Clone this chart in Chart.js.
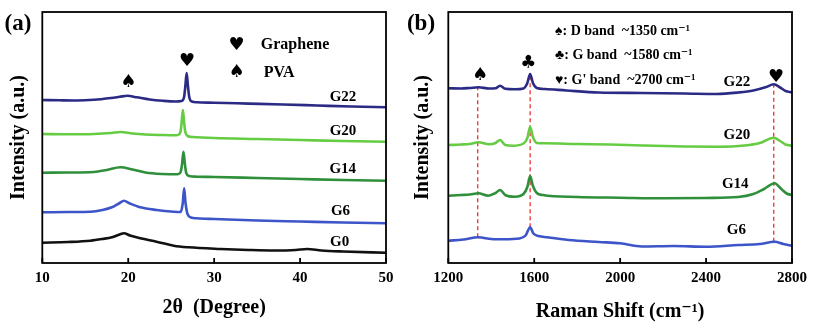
<!DOCTYPE html>
<html>
<head>
<meta charset="utf-8">
<script src="https://cdn.jsdelivr.net/npm/chart.js@4.4.1/dist/chart.umd.min.js"></script>
<style>
  html, body { margin: 0; padding: 0; background: #fff; }
  #wrap { position: relative; width: 815px; height: 328px; overflow: hidden; }
  #xrd { position: absolute; left: 0; top: 0; }
  #raman { position: absolute; left: 404px; top: 0; }
</style>
</head>
<body>
<div id="wrap">
  <canvas id="xrd" width="400" height="328"></canvas>
  <canvas id="raman" width="411" height="328"></canvas>
</div>
<script>
// ---- XRD: 2theta (deg) vs intensity (a.u., curves offset) ----
const xrdTicks = [10, 20, 30, 40, 50];

const g22Angle = [10, 12, 14, 16, 18, 19, 19.9, 21, 22.5, 24, 25.5, 26.2, 26.5, 26.65, 26.8, 26.95, 27.1, 27.4, 28, 30, 34, 38, 42, 46, 50];
const g22Xrd   = [163, 162.7, 162.5, 163.2, 165, 166.2, 167.3, 165.7, 163.5, 162.2, 161.5, 162, 166, 177, 190, 177, 166, 161.5, 160.7, 160.3, 159.4, 158.5, 157.5, 156.5, 155.7];

const g20Angle = [10, 13, 16, 18, 19.1, 20.5, 22, 24, 25.5, 25.9, 26.1, 26.22, 26.36, 26.5, 26.65, 26.9, 27.5, 30, 35, 40, 45, 50];
const g20Xrd   = [129, 128.7, 129, 130, 131, 129.5, 128.5, 128, 127.8, 128.5, 132, 141, 153, 141, 131, 127, 126, 125, 124, 123, 122, 121.3];

const g14Angle = [10, 13, 16, 17.5, 19.1, 20.5, 22, 24, 25.7, 26.1, 26.28, 26.43, 26.58, 26.75, 27.1, 28, 30, 35, 40, 45, 50];
const g14Xrd   = [90.3, 90.5, 91, 93, 95.7, 93.5, 90.5, 89, 88.7, 91, 100, 111.3, 100, 90, 87, 86.3, 86, 85, 84, 83, 82.3];

const g6Angle = [10, 13, 15.6, 17, 18.1, 19, 19.5, 20.2, 21.4, 23.3, 25.3, 26.1, 26.35, 26.51, 26.67, 26.9, 27.3, 28, 30, 35, 40, 45, 50];
const g6Xrd   = [50.7, 51, 51.3, 53, 55.7, 60, 62.3, 59.5, 55.7, 53, 51.3, 51, 60, 74.7, 60, 49, 45.5, 44.7, 44, 42.5, 41.5, 40.5, 39.7];

const g0Angle = [10, 13, 15.6, 17, 18.1, 19, 19.5, 20.2, 21.4, 23.3, 25.3, 27, 30.7, 34, 37, 39.5, 40.8, 42.5, 45, 50];
const g0Xrd   = [20.3, 21, 22.3, 24, 25.7, 28.5, 29.7, 27.5, 24.7, 21.3, 17.3, 15.7, 14, 13, 12.5, 13, 14, 12.5, 11.5, 10.3];

// ---- Raman: shift (cm-1) vs intensity (a.u., curves offset) ----
const ramanTicks = [1200, 1600, 2000, 2400, 2800];

const g22Shift = [1200, 1260, 1300, 1340, 1390, 1420, 1441, 1465, 1510, 1550, 1568, 1581, 1594, 1612, 1650, 1750, 1900, 2100, 2300, 2450, 2550, 2620, 2680, 2715, 2745, 2770, 2800];
const g22Raman = [174.7, 174.5, 175, 175.7, 174.5, 174.7, 177.3, 174.2, 173.7, 174.5, 180, 189, 180, 175, 174, 172.5, 170.5, 170, 169.5, 169, 170.5, 172.5, 176, 178.7, 175.5, 172, 170.7];

const g20Shift = [1200, 1260, 1300, 1340, 1390, 1420, 1441, 1465, 1500, 1550, 1568, 1581, 1594, 1612, 1650, 1800, 1950, 2100, 2300, 2450, 2580, 2650, 2715, 2745, 2770, 2800];
const g20Raman = [118, 118.5, 119, 120.7, 118.7, 120, 123, 118, 117.3, 119.5, 125, 136.3, 126, 120, 119.7, 119, 118.5, 117.5, 116.5, 116.3, 117.5, 120, 125.3, 122, 118.5, 117.3];

const g14Shift = [1200, 1260, 1300, 1340, 1386, 1420, 1441, 1465, 1510, 1550, 1568, 1581, 1594, 1612, 1640, 1800, 2000, 2200, 2400, 2550, 2620, 2670, 2719, 2750, 2775, 2800];
const g14Raman = [67.3, 68, 68.5, 69.7, 67.3, 70, 73, 68, 66.3, 69, 76, 87, 77, 70, 68, 66, 65.3, 64.7, 65, 66, 69, 74, 79.7, 74, 69.5, 68];

const g6Shift = [1200, 1270, 1340, 1400, 1460, 1530, 1560, 1581, 1596, 1620, 1660, 1760, 1900, 2000, 2100, 2250, 2400, 2550, 2650, 2719, 2760, 2800];
const g6Raman = [22.3, 23.5, 25.7, 24, 23.7, 24.5, 27.5, 35.7, 29.5, 27, 25.7, 23, 21, 19.7, 16.5, 17, 16.3, 18, 19, 21.3, 19, 17.3];

// D, G and G' band markers (dashed guides between top and bottom curve)
const bandShift  = [1337, 1581, 2715];
const bandTop    = [175.7, 189, 178.7];
const bandBottom = [25.7, 35.7, 21.3];

const SERIF = "'Liberation Serif', 'Times New Roman', 'DejaVu Serif', serif";
const SYM = "'DejaVu Sans', sans-serif";

function pts(xs, ys) {
  return xs.map((x, i) => ({ x: x, y: ys[i] }));
}

function trace(label, xs, ys, color) {
  return {
    label: label,
    data: pts(xs, ys),
    borderColor: color,
    borderWidth: 2.6,
    pointRadius: 0,
    fill: false,
    cubicInterpolationMode: 'monotone'
  };
}

// frame, inward ticks and the text notes
const decor = {
  id: 'decor',
  afterDatasetsDraw(chart, args, opts) {
    const { ctx, chartArea: a } = chart;
    const xs = chart.scales.x, ys = chart.scales.y;
    ctx.save();
    ctx.strokeStyle = '#000';
    ctx.lineWidth = 1.8;
    ctx.strokeRect(a.left, a.top, a.right - a.left, a.bottom - a.top);
    xs.ticks.forEach(t => {
      const px = xs.getPixelForValue(t.value);
      ctx.beginPath();
      ctx.moveTo(px, a.bottom);
      ctx.lineTo(px, a.bottom - 5);
      ctx.stroke();
    });
    ctx.fillStyle = '#000';
    ctx.textBaseline = 'middle';
    (opts.notes || []).forEach(n => {
      ctx.font = 'bold ' + n.size + 'px ' + (n.sym ? SYM : SERIF);
      ctx.textAlign = n.align || 'center';
      ctx.fillText(n.text, xs.getPixelForValue(n.x), ys.getPixelForValue(n.y));
    });
    if (opts.panel) {
      ctx.font = 'bold 23px ' + SERIF;
      ctx.textAlign = 'center';
      ctx.fillText(opts.panel.text, opts.panel.x, opts.panel.y);
    }
    ctx.restore();
  }
};

function options(cfg) {
  return {
    responsive: false,
    animation: false,
    devicePixelRatio: 1,
    layout: { padding: { left: 0, top: 12, right: cfg.padRight, bottom: 0 } },
    plugins: {
      legend: { display: false },
      tooltip: { enabled: false },
      decor: { notes: cfg.notes, panel: cfg.panel }
    },
    scales: {
      x: {
        type: 'linear',
        min: cfg.ticks[0],
        max: cfg.ticks[cfg.ticks.length - 1],
        afterBuildTicks: s => { s.ticks = cfg.ticks.map(v => ({ value: v })); },
        ticks: {
          color: '#000',
          padding: 6,
          maxRotation: 0,
          autoSkip: false,
          font: { family: SERIF, size: 15, weight: 'bold' },
          callback: v => String(v)
        },
        grid: { display: false, drawTicks: false },
        border: { display: false },
        title: {
          display: true,
          text: cfg.xTitle,
          color: '#000',
          font: { family: SERIF, size: 20, weight: 'bold' },
          padding: { top: 0, bottom: cfg.titlePad }
        },
        afterFit: s => { s.height = 65; }
      },
      y: {
        min: 0,
        max: 251,
        ticks: { display: false },
        grid: { display: false, drawTicks: false },
        border: { display: false },
        title: {
          display: true,
          text: 'Intensity (a.u.)',
          color: '#000',
          font: { family: SERIF, size: 20, weight: 'bold' },
          padding: { top: 7, bottom: 0 }
        },
        afterFit: s => { s.width = cfg.yWidth; }
      }
    }
  };
}

new Chart(document.getElementById('xrd'), {
  type: 'line',
  data: {
    datasets: [
      trace('G22', g22Angle, g22Xrd, '#2b2b85'),
      trace('G20', g20Angle, g20Xrd, '#66cc44'),
      trace('G14', g14Angle, g14Xrd, '#2f8f3a'),
      trace('G6', g6Angle, g6Xrd, '#3d55c8'),
      trace('G0', g0Angle, g0Xrd, '#111111')
    ]
  },
  options: options({
    ticks: xrdTicks,
    xTitle: '2\u03b8  (Degree)',
    titlePad: 8,
    yWidth: 42.3,
    padRight: 14,
    panel: { text: '(a)', x: 18, y: 24 },
    notes: [
      { text: '\u2665', x: 32.6, y: 218, size: 18, sym: true },
      { text: 'Graphene', x: 35.43, y: 218, size: 16, align: 'left' },
      { text: '\u2660', x: 32.6, y: 190.3, size: 18, sym: true },
      { text: 'PVA', x: 35.78, y: 190.3, size: 16, align: 'left' },
      { text: '\u2660', x: 20.0, y: 180.3, size: 18, sym: true },
      { text: '\u2665', x: 26.86, y: 201.3, size: 18, sym: true },
      { text: 'G22', x: 45.0, y: 166, size: 15 },
      { text: 'G20', x: 45.0, y: 132, size: 15 },
      { text: 'G14', x: 44.97, y: 94, size: 15 },
      { text: 'G6', x: 44.7, y: 52.3, size: 15 },
      { text: 'G0', x: 44.6, y: 21.3, size: 15 }
    ]
  }),
  plugins: [decor]
});

const guides = bandShift.map((s, i) => ({
  label: 'band' + i,
  data: [{ x: s, y: bandBottom[i] }, { x: s, y: bandTop[i] }],
  borderColor: '#e8302c',
  borderWidth: 1.3,
  borderDash: [4, 3],
  pointRadius: 0,
  fill: false,
  order: 10
}));

new Chart(document.getElementById('raman'), {
  type: 'line',
  data: {
    datasets: [
      trace('G22', g22Shift, g22Raman, '#2b2b85'),
      trace('G20', g20Shift, g20Raman, '#66cc44'),
      trace('G14', g14Shift, g14Raman, '#2f8f3a'),
      trace('G6', g6Shift, g6Raman, '#3d55c8')
    ].concat(guides)
  },
  options: options({
    ticks: ramanTicks,
    xTitle: 'Raman Shift (cm\u207b\u00b9)',
    titlePad: 4,
    yWidth: 44.3,
    padRight: 23,
    panel: { text: '(b)', x: 17, y: 24 },
    notes: [
      { text: '\u2660: D band  ~1350 cm\u207b\u00b9', x: 1697, y: 232, size: 14, align: 'left' },
      { text: '\u2663: G band  ~1580 cm\u207b\u00b9', x: 1697, y: 208, size: 14, align: 'left' },
      { text: "\u2665: G' band  ~2700 cm\u207b\u00b9", x: 1697, y: 183, size: 14, align: 'left' },
      { text: '\u2660', x: 1348, y: 188, size: 18, sym: true },
      { text: '\u2663', x: 1573, y: 199.7, size: 18, sym: true },
      { text: '\u2665', x: 2726, y: 185.7, size: 18, sym: true },
      { text: 'G22', x: 2543, y: 181.3, size: 15 },
      { text: 'G20', x: 2543, y: 128, size: 15 },
      { text: 'G14', x: 2536, y: 78.7, size: 15 },
      { text: 'G6', x: 2541, y: 33, size: 15 }
    ]
  }),
  plugins: [decor]
});
</script>
</body>
</html>
